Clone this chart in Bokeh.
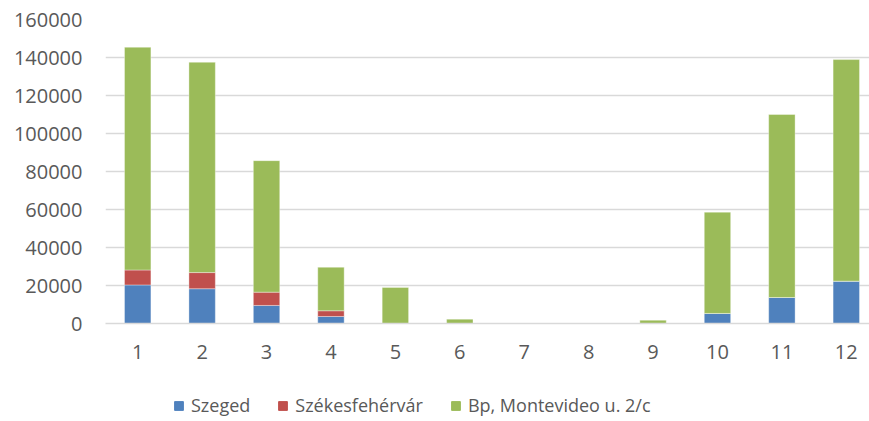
from bokeh.plotting import figure
from bokeh.layouts import column
from bokeh.models import ColumnDataSource, Range1d, Legend, LegendItem, FixedTicker
from bokeh.embed import file_html
from bokeh.resources import INLINE

months = [1, 2, 3, 4, 5, 6, 7, 8, 9, 10, 11, 12]
szeged = [20300, 18300, 9500, 3700, 0, 0, 0, 0, 0, 5300, 13700, 22300]
szekesfehervar = [7850, 8500, 7000, 3000, 0, 0, 0, 0, 0, 0, 0, 0]
budapest = [117250, 110700, 69200, 22900, 19000, 2300, 0, 0, 1750, 53300, 96300, 116600]
series_names = ["Szeged", "Székesfehérvár", "Bp, Montevideo u. 2/c"]
y_ticks = [0, 20000, 40000, 60000, 80000, 100000, 120000, 140000, 160000]

colors = ["#4f81bd", "#c0504d", "#9bbb59"]
FONT = "Open Sans"
TXT = "#595959"

src = ColumnDataSource(dict(month=months, szeged=szeged, szfv=szekesfehervar, bp=budapest))

p = figure(width=869, height=380, output_backend="svg", toolbar_location=None,
           x_range=Range1d(0.5, 12.36), y_range=Range1d(0, 160000),
           min_border_left=105, min_border_right=0, min_border_top=19, min_border_bottom=57)

rs = p.vbar_stack(["szeged", "szfv", "bp"], x="month", width=0.41, color=colors,
                  line_color="white", line_width=0.6, line_alpha=0.6, source=src)

p.outline_line_color = None
p.xgrid.grid_line_color = None
p.ygrid.grid_line_color = "#d9d9d9"
p.ygrid.grid_line_width = 1.5
p.ygrid.ticker = FixedTicker(ticks=y_ticks)

p.yaxis.ticker = FixedTicker(ticks=y_ticks)
p.yaxis.axis_line_color = None
p.yaxis.major_tick_line_color = None
p.yaxis.minor_tick_line_color = None
p.yaxis.major_label_standoff = 17
p.yaxis.formatter.use_scientific = False

p.xaxis.ticker = FixedTicker(ticks=months)
p.xaxis.axis_line_color = "#d9d9d9"
p.xaxis.axis_line_width = 1.5
p.xaxis.major_tick_line_color = None
p.xaxis.minor_tick_line_color = None
p.xaxis.major_label_standoff = 15

for ax in (p.xaxis, p.yaxis):
    ax.major_label_text_font = FONT
    ax.major_label_text_font_size = "20px"
    ax.major_label_text_color = TXT

# legend strip below the chart (its own glyphs are hidden; only the legend shows)
p2 = figure(width=869, height=41, output_backend="svg", toolbar_location=None,
            x_axis_location=None, y_axis_location=None,
            x_range=Range1d(12.5, 13.5), y_range=Range1d(0, 1),
            min_border_left=0, min_border_right=0, min_border_top=0, min_border_bottom=0)
p2.outline_line_color = None
p2.grid.visible = False
p2.axis.visible = False
proxies = p2.vbar_stack(["szeged", "szfv", "bp"], x="month", width=0.41, color=colors, source=src)
for r in proxies:
    r.visible = False

legend = Legend(items=[LegendItem(label=n, renderers=[r]) for n, r in zip(series_names, proxies)],
                location=(68, 4), orientation="horizontal",
                glyph_width=11, glyph_height=11, label_standoff=7, spacing=27,
                padding=0, margin=0, border_line_color=None, background_fill_alpha=0,
                inactive_fill_alpha=0,
                label_text_font=FONT, label_text_font_size="18px", label_text_color=TXT)
p2.add_layout(legend, "center")

open("out.html", "w").write(file_html(column(p, p2, spacing=0), INLINE))
